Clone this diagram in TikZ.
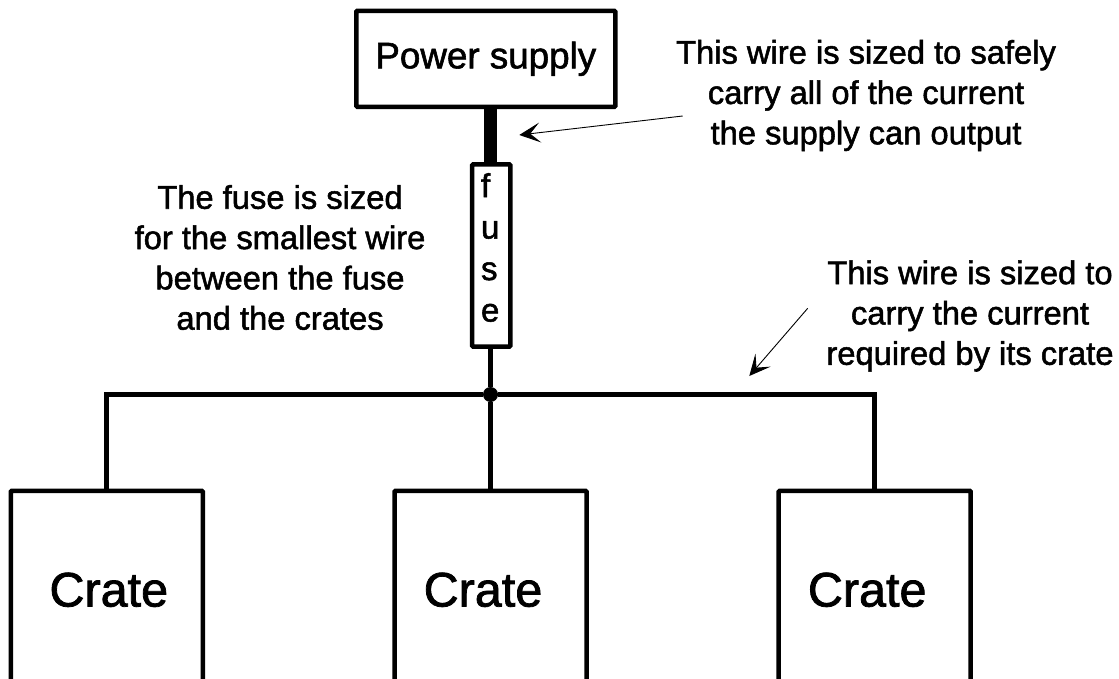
\documentclass[tikz,border=0pt]{standalone}
\usepackage{fontspec}
\setmainfont[FakeBold=1.6]{Liberation Sans}
\usetikzlibrary{arrows.meta,positioning}
\tikzset{
  boxnode/.style={draw=black,line width=4.5pt,outer sep=0pt,inner sep=0pt,rounded corners=1pt},
  cratebox/.style={boxnode,minimum width=192pt,minimum height=198pt},
  cratetext/.style={font=\fontsize{48.5}{48.5}\selectfont},
  note/.style={align=center,inner sep=0pt,font=\fontsize{32.7}{40.3}\selectfont},
  wire/.style={line width=5pt},
  pointer/.style={line width=0.9pt,-{Stealth[length=21pt,width=20pt,inset=10pt]}}
}
\begin{document}
\begin{tikzpicture}[x=1pt,y=-1pt,node distance=57.7pt]
        \useasboundingbox (0,0) rectangle (1119,679);
        \clip (0,0) rectangle (1119,679);
        \node[boxnode,minimum width=259pt,minimum height=96pt,
          font=\fontsize{36.8}{36.8}\selectfont] (supply) at (485.8,58.8) {Power supply};
        \node[boxnode,minimum width=38.3pt,minimum height=182pt,below=of supply,xshift=5.4pt,
          label={[align=left,inner sep=0pt,xshift=-1pt,yshift=8pt,font=\fontsize{33}{41.5}\selectfont]center:f\\u\\s\\e}] (fuse) {};
        \node[circle,fill=black,inner sep=0pt,minimum size=15pt] (junction) at (490.5,394.5) {};
        \node[cratebox,label={[cratetext,xshift=2pt]center:Crate}] (crateA) at (106.8,589.8) {};
        \node[cratebox,label={[cratetext,xshift=-7.5pt]center:Crate}] (crateB) at (490.5,589.8) {};
        \node[cratebox,label={[cratetext,xshift=-7.5pt]center:Crate}] (crateC) at (874.7,589.8) {};
        \node[note] (wiretop) at (866,95.5) {This wire is sized to safely\\carry all of the current\\the supply can output};
        \node[note] (fusenote) at (280,257.5) {The fuse is sized\\for the smallest wire\\between the fuse\\and the crates};
        \node[note] (wirecrate) at (970,316) {This wire is sized to\\carry the current\\required by its crate};
        \coordinate (heavystart) at (682.7,116);
        \coordinate (heavyend) at (519.3,135);
        \coordinate (busstart) at (807.7,308.3);
        \coordinate (busend) at (749.3,376);
        \draw[line width=12.7pt] (junction |- supply.south) -- (junction |- fuse.north);
        \draw[wire] (junction |- fuse.south) -- (junction);
        \draw[wire] (crateA.north) |- (junction) -| (crateC.north);
        \draw[wire] (junction) -- (crateB.north);
        \draw[pointer] (heavystart) -- (heavyend);
        \draw[pointer] (busstart) -- (busend);
      \end{tikzpicture}
\end{document}
